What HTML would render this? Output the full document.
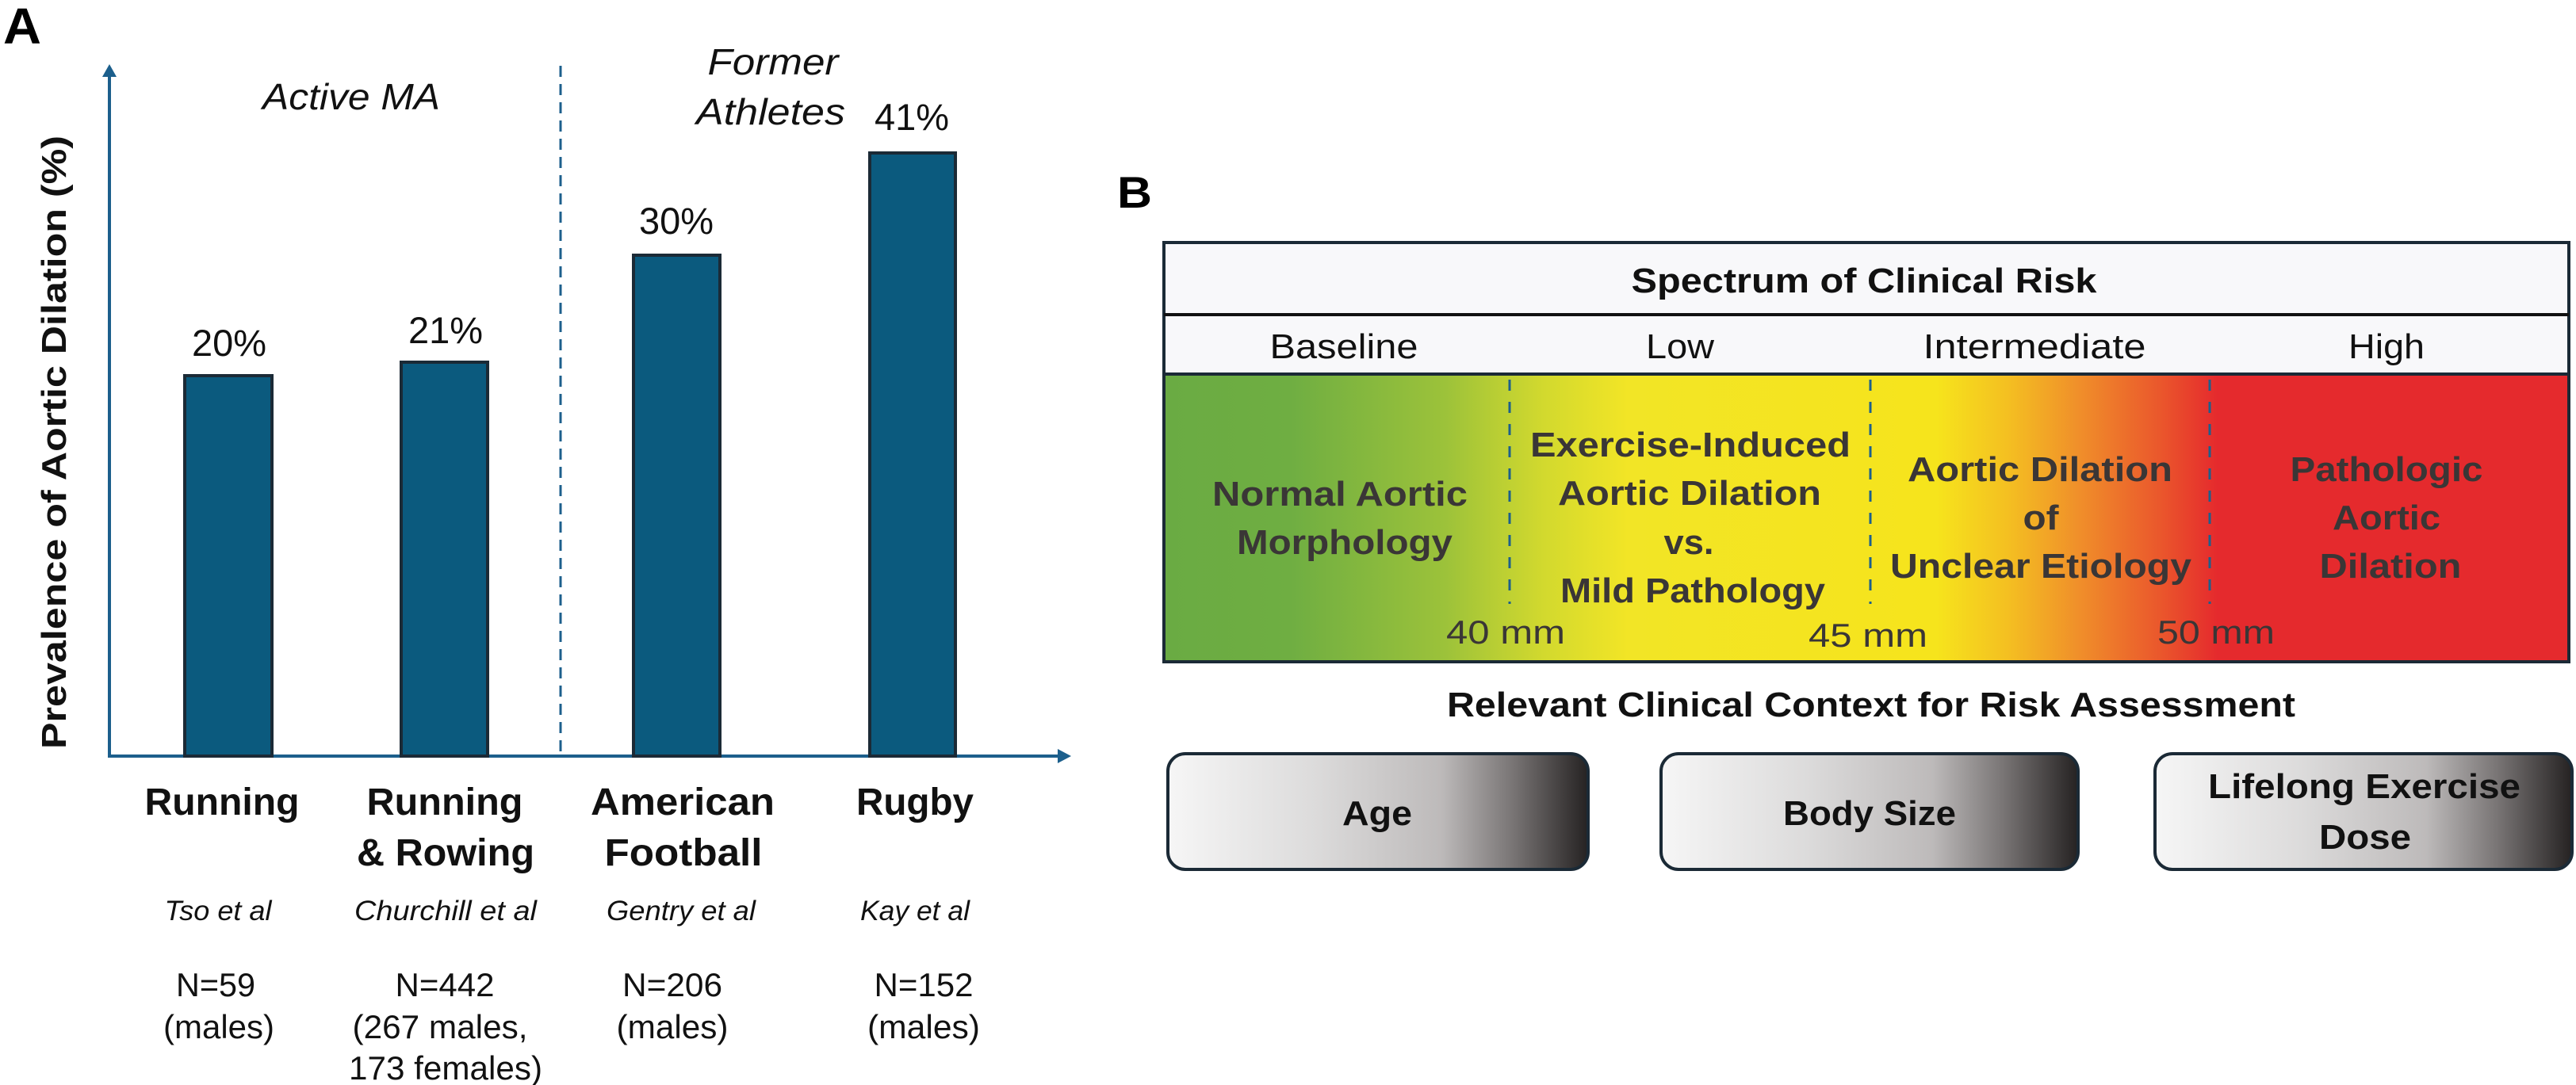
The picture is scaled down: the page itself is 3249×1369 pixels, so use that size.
<!DOCTYPE html>
<html><head><meta charset="utf-8"><style>
html,body{margin:0;padding:0;background:#fff;}
svg{display:block;}
text{font-family:"Liberation Sans",sans-serif;}
</style></head><body>
<svg width="3249" height="1369" viewBox="0 0 3249 1369" xmlns="http://www.w3.org/2000/svg">
<defs>
<linearGradient id="risk" x1="0" x2="1" y1="0" y2="0">
<stop offset="0" stop-color="#6aab43"/>
<stop offset="0.09" stop-color="#6fae42"/>
<stop offset="0.2" stop-color="#9cc23a"/>
<stop offset="0.27" stop-color="#d2d92e"/>
<stop offset="0.33" stop-color="#f2e526"/>
<stop offset="0.55" stop-color="#f6e41c"/>
<stop offset="0.6" stop-color="#f4c021"/>
<stop offset="0.65" stop-color="#f0902a"/>
<stop offset="0.71" stop-color="#ea562c"/>
<stop offset="0.75" stop-color="#e52a2d"/>
<stop offset="1" stop-color="#e52a2d"/>
</linearGradient>
<linearGradient id="ctx" x1="0" x2="1" y1="0" y2="0">
<stop offset="0" stop-color="#f6f6f6"/>
<stop offset="0.35" stop-color="#dcdbdb"/>
<stop offset="0.65" stop-color="#bdbaba"/>
<stop offset="0.82" stop-color="#797575"/>
<stop offset="1" stop-color="#252222"/>
</linearGradient>
</defs>

<!-- Panel A -->
<text x="4" y="55" font-size="64" font-weight="bold" textLength="48" lengthAdjust="spacingAndGlyphs">A</text>
<line x1="138" y1="95" x2="138" y2="955" stroke="#1c5f8c" stroke-width="4"/>
<polygon points="129,97 147,97 138,81" fill="#1c5f8c"/>
<line x1="136" y1="954" x2="1336" y2="954" stroke="#1c5f8c" stroke-width="4"/>
<polygon points="1334,945 1334,963 1351,954" fill="#1c5f8c"/>
<line x1="707" y1="83" x2="707" y2="954" stroke="#1c5f8c" stroke-width="3" stroke-dasharray="14,9"/>

<g fill="#0b5a7e" stroke="#1b2a36" stroke-width="4">
<rect x="233" y="474" width="110" height="480"/>
<rect x="506" y="457" width="109" height="497"/>
<rect x="799" y="322" width="109" height="632"/>
<rect x="1097" y="193" width="108" height="761"/>
</g>
<g font-size="47" text-anchor="middle" fill="#111">
<text x="289" y="449">20%</text>
<text x="562" y="433">21%</text>
<text x="853" y="295">30%</text>
<text x="1150" y="164">41%</text>
</g>
<g font-size="46" font-style="italic" text-anchor="middle" fill="#111">
<text x="443" y="138" textLength="224" lengthAdjust="spacingAndGlyphs">Active MA</text>
<text x="975" y="94" textLength="165" lengthAdjust="spacingAndGlyphs">Former</text>
<text x="972" y="157" textLength="188" lengthAdjust="spacingAndGlyphs">Athletes</text>
</g>
<text transform="translate(83,558) rotate(-90)" font-size="44" font-weight="bold" text-anchor="middle" textLength="774" lengthAdjust="spacingAndGlyphs" fill="#111">Prevalence of Aortic Dilation (%)</text>

<g font-size="48" font-weight="bold" text-anchor="middle" fill="#111">
<text x="280" y="1028" textLength="195" lengthAdjust="spacingAndGlyphs">Running</text>
<text x="561" y="1028" textLength="197" lengthAdjust="spacingAndGlyphs">Running</text>
<text x="562" y="1092" textLength="224" lengthAdjust="spacingAndGlyphs">&amp; Rowing</text>
<text x="861" y="1028" textLength="232" lengthAdjust="spacingAndGlyphs">American</text>
<text x="862" y="1092" textLength="199" lengthAdjust="spacingAndGlyphs">Football</text>
<text x="1154" y="1028" textLength="148" lengthAdjust="spacingAndGlyphs">Rugby</text>
</g>
<g font-size="35" font-style="italic" text-anchor="middle" fill="#111">
<text x="275" y="1161" textLength="135" lengthAdjust="spacingAndGlyphs">Tso et al</text>
<text x="562" y="1161" textLength="230" lengthAdjust="spacingAndGlyphs">Churchill et al</text>
<text x="859" y="1161" textLength="188" lengthAdjust="spacingAndGlyphs">Gentry et al</text>
<text x="1154" y="1161" textLength="138" lengthAdjust="spacingAndGlyphs">Kay et al</text>
</g>
<g font-size="42" text-anchor="middle" fill="#111">
<text x="272" y="1257" textLength="100" lengthAdjust="spacingAndGlyphs">N=59</text>
<text x="276" y="1310" textLength="140" lengthAdjust="spacingAndGlyphs">(males)</text>
<text x="561" y="1257" textLength="125" lengthAdjust="spacingAndGlyphs">N=442</text>
<text x="555" y="1310" textLength="221" lengthAdjust="spacingAndGlyphs">(267 males,</text>
<text x="562" y="1362" textLength="244" lengthAdjust="spacingAndGlyphs">173 females)</text>
<text x="848" y="1257" textLength="126" lengthAdjust="spacingAndGlyphs">N=206</text>
<text x="848" y="1310" textLength="141" lengthAdjust="spacingAndGlyphs">(males)</text>
<text x="1165" y="1257" textLength="125" lengthAdjust="spacingAndGlyphs">N=152</text>
<text x="1165" y="1310" textLength="142" lengthAdjust="spacingAndGlyphs">(males)</text>
</g>

<!-- Panel B -->
<text x="1409" y="262" font-size="56" font-weight="bold" textLength="44" lengthAdjust="spacingAndGlyphs">B</text>
<rect x="1468" y="306" width="1772" height="91" fill="#f8f8fa"/>
<rect x="1468" y="397" width="1772" height="75" fill="#f8f8fa"/>
<rect x="1468" y="472" width="1772" height="363" fill="url(#risk)"/>
<rect x="1468" y="306" width="1772" height="529" fill="none" stroke="#1b2a36" stroke-width="4"/>
<line x1="1468" y1="397" x2="3240" y2="397" stroke="#111" stroke-width="4"/>
<line x1="1468" y1="472" x2="3240" y2="472" stroke="#1b2a36" stroke-width="4"/>
<g stroke="#1c5f8c" stroke-width="3" stroke-dasharray="14,14">
<line x1="1904" y1="479" x2="1904" y2="762"/>
<line x1="2359" y1="479" x2="2359" y2="762"/>
<line x1="2787" y1="479" x2="2787" y2="762"/>
</g>
<text x="2351" y="369" font-size="44" font-weight="bold" text-anchor="middle" textLength="587" lengthAdjust="spacingAndGlyphs" fill="#111">Spectrum of Clinical Risk</text>
<g font-size="44" text-anchor="middle" fill="#111">
<text x="1695" y="452" textLength="187" lengthAdjust="spacingAndGlyphs">Baseline</text>
<text x="2119" y="452" textLength="86" lengthAdjust="spacingAndGlyphs">Low</text>
<text x="2566" y="452" textLength="281" lengthAdjust="spacingAndGlyphs">Intermediate</text>
<text x="3010" y="452" textLength="96" lengthAdjust="spacingAndGlyphs">High</text>
</g>
<g font-size="44" font-weight="bold" text-anchor="middle" fill="#3a3636">
<text x="1690" y="638" textLength="322" lengthAdjust="spacingAndGlyphs">Normal Aortic</text>
<text x="1696" y="699" textLength="272" lengthAdjust="spacingAndGlyphs">Morphology</text>
<text x="2132" y="576" textLength="404" lengthAdjust="spacingAndGlyphs">Exercise-Induced</text>
<text x="2131" y="637" textLength="332" lengthAdjust="spacingAndGlyphs">Aortic Dilation</text>
<text x="2130" y="699" textLength="63" lengthAdjust="spacingAndGlyphs">vs.</text>
<text x="2135" y="760" textLength="334" lengthAdjust="spacingAndGlyphs">Mild Pathology</text>
<text x="2573" y="607" textLength="334" lengthAdjust="spacingAndGlyphs">Aortic Dilation</text>
<text x="2574" y="668" textLength="45" lengthAdjust="spacingAndGlyphs">of</text>
<text x="2574" y="729" textLength="380" lengthAdjust="spacingAndGlyphs">Unclear Etiology</text>
<text x="3010" y="607" textLength="243" lengthAdjust="spacingAndGlyphs">Pathologic</text>
<text x="3010" y="668" textLength="136" lengthAdjust="spacingAndGlyphs">Aortic</text>
<text x="3015" y="729" textLength="179" lengthAdjust="spacingAndGlyphs">Dilation</text>
</g>
<g font-size="42" text-anchor="middle" fill="#3a3636">
<text x="1899" y="812" textLength="150" lengthAdjust="spacingAndGlyphs">40 mm</text>
<text x="2356" y="816" textLength="150" lengthAdjust="spacingAndGlyphs">45 mm</text>
<text x="2795" y="812" textLength="148" lengthAdjust="spacingAndGlyphs">50 mm</text>
</g>
<text x="2360" y="904" font-size="44" font-weight="bold" text-anchor="middle" textLength="1070" lengthAdjust="spacingAndGlyphs" fill="#111">Relevant Clinical Context for Risk Assessment</text>

<g stroke="#1b2a36" stroke-width="4" fill="url(#ctx)">
<rect x="1473" y="951" width="530" height="146" rx="22"/>
<rect x="2095" y="951" width="526" height="146" rx="22"/>
<rect x="2718" y="951" width="526" height="146" rx="22"/>
</g>
<g font-size="44" font-weight="bold" text-anchor="middle" fill="#111">
<text x="1737" y="1041" textLength="88" lengthAdjust="spacingAndGlyphs">Age</text>
<text x="2358" y="1041" textLength="218" lengthAdjust="spacingAndGlyphs">Body Size</text>
<text x="2982" y="1007" textLength="394" lengthAdjust="spacingAndGlyphs">Lifelong Exercise</text>
<text x="2983" y="1071" textLength="116" lengthAdjust="spacingAndGlyphs">Dose</text>
</g>
</svg>
</body></html>
